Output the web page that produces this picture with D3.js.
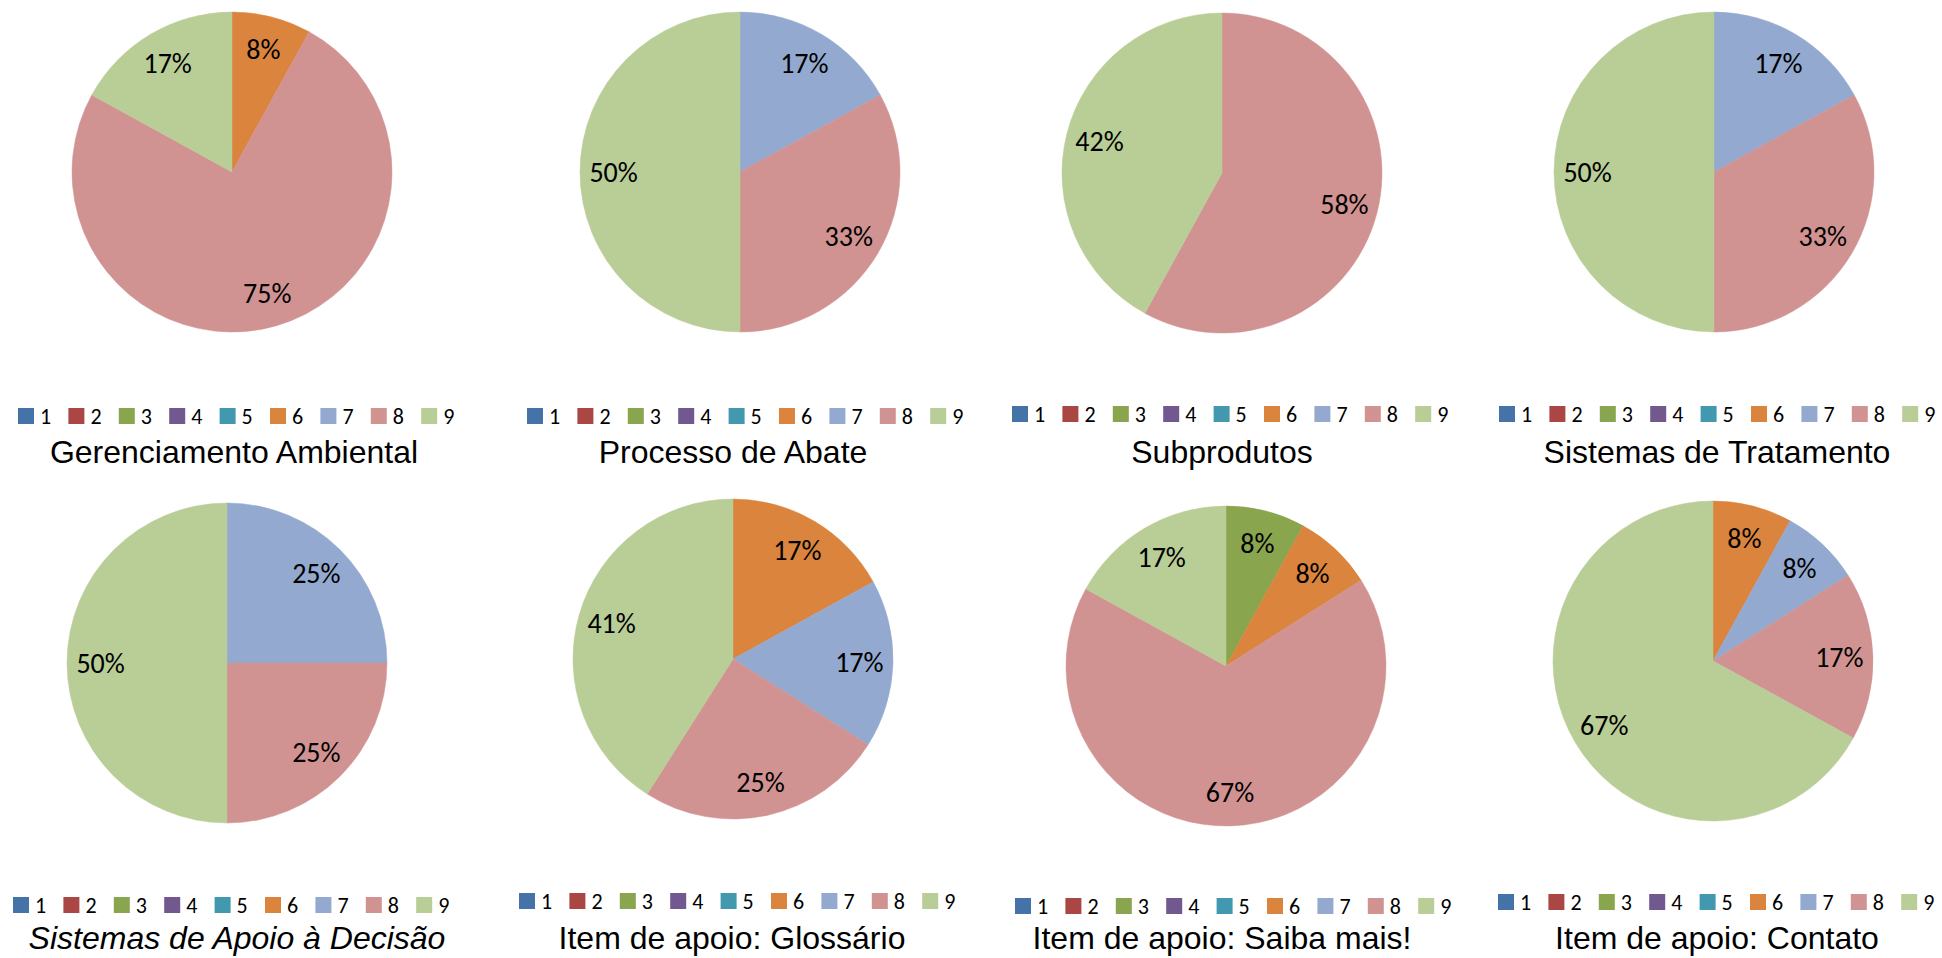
<!DOCTYPE html>
<html>
<head>
<meta charset="utf-8">
<script src="https://cdn.jsdelivr.net/npm/d3@7"></script>
<style>
  html, body { margin: 0; padding: 0; background: #ffffff; overflow: hidden; }
  svg { display: block; }
</style>
</head>
<body>
<svg id="chart" width="1942" height="958"></svg>
<script>
// ---------- data ----------
const categories = ["1", "2", "3", "4", "5", "6", "7", "8", "9"];
const titles = [
  "Gerenciamento Ambiental",
  "Processo de Abate",
  "Subprodutos",
  "Sistemas de Tratamento",
  "Sistemas de Apoio à Decisão",
  "Item de apoio: Glossário",
  "Item de apoio: Saiba mais!",
  "Item de apoio: Contato"
];
const gerenciamento = [0, 0, 0, 0, 0, 8, 0, 75, 17];
const processo      = [0, 0, 0, 0, 0, 0, 17, 33, 50];
const subprodutos   = [0, 0, 0, 0, 0, 0, 0, 58, 42];
const tratamento    = [0, 0, 0, 0, 0, 0, 17, 33, 50];
const apoioDecisao  = [0, 0, 0, 0, 0, 0, 25, 25, 50];
const glossario     = [0, 0, 0, 0, 0, 17, 17, 25, 41];
const saibaMais     = [0, 0, 8, 0, 0, 8, 0, 67, 17];
const contato       = [0, 0, 0, 0, 0, 8, 8, 17, 67];
const seriesList = [gerenciamento, processo, subprodutos, tratamento,
                    apoioDecisao, glossario, saibaMais, contato];

// ---------- styles / layout ----------
const palette = ["#4572A7", "#AA4643", "#89A54E", "#71588F", "#4198AF",
                 "#DB843D", "#93A9CF", "#D19392", "#B9CD96"];
const color = d3.scaleOrdinal().domain(categories).range(palette);

// per-panel placement (pie centre, legend start/top, title centre/baseline)
const layout = [
  {cx: 232,  cy: 172, lx: 18,   ly: 408, tx: 234,  ty: 463, italic: false},
  {cx: 740,  cy: 172, lx: 527,  ly: 408, tx: 733,  ty: 463, italic: false},
  {cx: 1222, cy: 173, lx: 1012, ly: 406, tx: 1222, ty: 463, italic: false},
  {cx: 1714, cy: 172, lx: 1499, ly: 406, tx: 1717, ty: 463, italic: false},
  {cx: 227,  cy: 663, lx: 13,   ly: 897, tx: 237,  ty: 949, italic: true},
  {cx: 733,  cy: 659, lx: 519,  ly: 893, tx: 732,  ty: 949, italic: false},
  {cx: 1226, cy: 666, lx: 1015, ly: 898, tx: 1222, ty: 949, italic: false},
  {cx: 1713, cy: 661, lx: 1498, ly: 894, tx: 1717, ty: 949, italic: false}
];
const R = 160;
const legendStep = 50.4;
const labelFont = "Carlito, Lato, Calibri, sans-serif";
const titleFont = "'Liberation Sans', Arial, sans-serif";

const svg = d3.select("#chart");
const pie = d3.pie().sort(null).value(d => d.v);
const arc = d3.arc().innerRadius(0).outerRadius(R);
const labelArc = d3.arc().innerRadius(R * 0.79).outerRadius(R * 0.79);

seriesList.forEach((vals, i) => {
  const L = layout[i];
  const data = categories.map((c, k) => ({c: c, v: vals[k]}));
  const g = svg.append("g");

  const pg = g.append("g").attr("transform", `translate(${L.cx},${L.cy})`);
  const arcs = pie(data).filter(d => d.data.v > 0);
  pg.selectAll("path").data(arcs).join("path")
    .attr("d", arc)
    .attr("fill", d => color(d.data.c))
    .attr("stroke", d => color(d.data.c))
    .attr("stroke-width", 0.5);

  pg.selectAll("text").data(arcs).join("text")
    .attr("transform", d => `translate(${labelArc.centroid(d)})`)
    .attr("text-anchor", "middle")
    .attr("dominant-baseline", "central")
    .style("font-family", labelFont)
    .style("font-size", "28px")
    .attr("fill", "#000")
    .text(d => d.data.v + "%");

  // legend
  const lg = g.append("g").attr("transform", `translate(${L.lx},${L.ly})`);
  const items = lg.selectAll("g").data(categories).join("g")
    .attr("transform", (d, k) => `translate(${k * legendStep},0)`);
  items.append("rect")
    .attr("width", 16).attr("height", 16)
    .attr("fill", d => color(d));
  items.append("text")
    .attr("x", 22).attr("y", 8.5)
    .attr("dominant-baseline", "central")
    .style("font-family", labelFont)
    .style("font-size", "22px")
    .attr("fill", "#000")
    .text(d => d);

  // title
  g.append("text")
    .attr("x", L.tx).attr("y", L.ty)
    .attr("text-anchor", "middle")
    .style("font-family", titleFont)
    .style("font-size", "32px")
    .style("font-style", L.italic ? "italic" : "normal")
    .attr("fill", "#000")
    .text(titles[i]);
});
</script>
</body>
</html>
